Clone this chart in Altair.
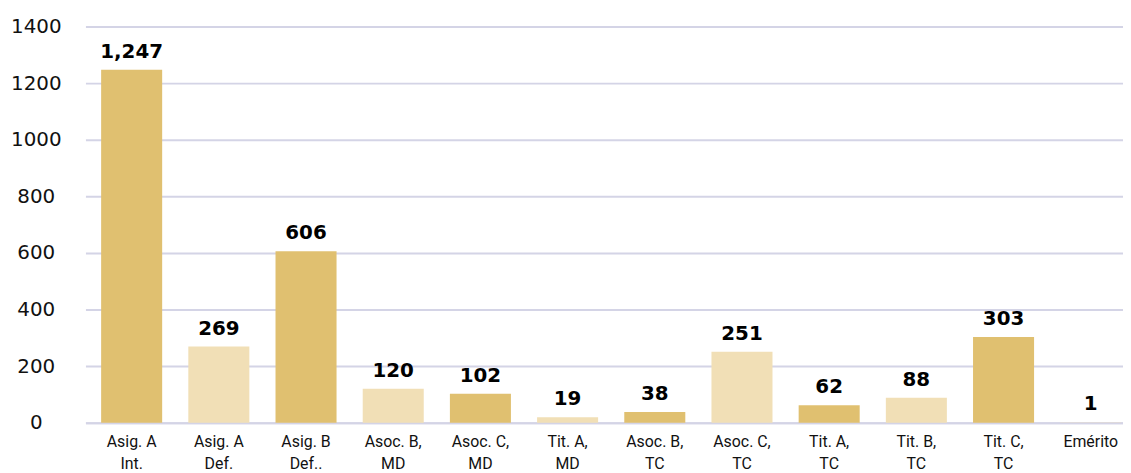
import altair as alt
import pandas as pd

categories = ["Asig. A\nInt.", "Asig. A\nDef.", "Asig. B\nDef..", "Asoc. B,\nMD", "Asoc. C,\nMD",
              "Tit. A,\nMD", "Asoc. B,\nTC", "Asoc. C,\nTC", "Tit. A,\nTC", "Tit. B,\nTC",
              "Tit. C,\nTC", "Emérito"]
values = [1247, 269, 606, 120, 102, 19, 38, 251, 62, 88, 303, 1]
shades = ["dark", "light", "dark", "light", "dark", "light", "dark", "light", "dark", "light", "dark", "light"]

df = pd.DataFrame({"cat": categories, "val": values, "shade": shades})

x = alt.X("cat:N", sort=categories, title=None,
          scale=alt.Scale(paddingInner=0.3, paddingOuter=0.1, align=0.9),
          axis=alt.Axis(labelAngle=0, labelExpr="split(datum.value, '\\n')",
                        labelFontSize=16, labelFont="Liberation Sans Narrow, Roboto",
                        labelColor="#111", labelLineHeight=22, labelPadding=11,
                        ticks=False, tickSize=0, domain=True, domainColor="#D4D4E6",
                        domainWidth=2, labelBaseline="top"))

base = alt.Chart(df).encode(x=x)

bars = base.mark_bar().encode(
    y=alt.Y("val:Q", title=None,
            scale=alt.Scale(domain=[0, 1400], nice=False),
            axis=alt.Axis(values=[0, 200, 400, 600, 800, 1000, 1200, 1400], format="d",
                          labelFontSize=20, labelFont="DejaVu Sans", labelColor="#111",
                          labelFontWeight="normal",
                          labelAlign="center", labelPadding=50, ticks=False, tickSize=0,
                          domain=False, gridColor="#D4D4E6", gridWidth=2)),
    color=alt.Color("shade:N", legend=None,
                    scale=alt.Scale(domain=["dark", "light"], range=["#E0C070", "#F1DFB6"])),
)

labels = base.mark_text(fontSize=20, fontWeight="bold", font="DejaVu Sans",
                        baseline="bottom", dy=-8, color="#000").encode(
    y=alt.Y("val:Q"),
    text=alt.Text("val:Q", format=","),
)

chart = (bars + labels).properties(
    width=1045, height=399,
    padding={"top": 7, "left": 2, "right": 0, "bottom": 0},
).configure_view(stroke=None).configure_axis(gridOpacity=1)

chart.save("out.html", embed_options={"renderer": "svg", "actions": False})
